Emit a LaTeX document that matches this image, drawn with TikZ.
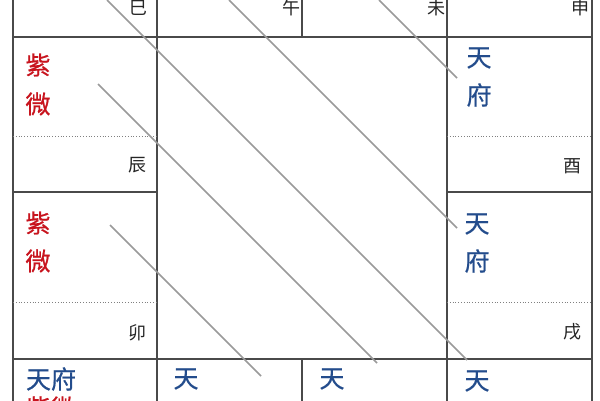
\documentclass[tikz,border=0pt]{standalone}
\usepackage{fontspec}
\newfontfamily\cjk{Noto Sans CJK SC}
\newfontfamily\cjkstar{Noto Sans CJK SC}[FakeBold=0.6]
\definecolor{ziwei}{HTML}{C8141E}
\definecolor{tianfu}{HTML}{234C8C}
\definecolor{frame}{HTML}{4A4A4A}
\definecolor{raygray}{HTML}{9A9A9A}

\begin{document}
\begin{tikzpicture}[x=1pt, y=-1pt,
    cell/.style={frame, line width=1.2pt},
    split/.style={frame!70, line width=0.8pt, dotted},
    ray/.style={raygray, line width=1.6pt},
    zi/.style={ziwei, inner sep=0pt, font=\cjkstar\fontsize{25}{25}\selectfont},
    tian/.style={tianfu, inner sep=0pt, font=\cjkstar\fontsize{25}{25}\selectfont},
    branch/.style={black!85, inner sep=0pt, font=\cjk\fontsize{18}{18}\selectfont}]
          \useasboundingbox (0,0) rectangle (600,400);
          \clip (0,0) rectangle (600,400);
          \fill[white] (0,0) rectangle (600,400);
          \draw[cell] (13,-5) -- (13,405);
          \draw[cell] (157,-5) -- (157,405);
          \draw[cell] (447,-5) -- (447,405);
          \draw[cell] (592,-5) -- (592,405);
          \draw[cell] (302,-5) -- (302,37);
          \draw[cell] (302,359) -- (302,405);
          \draw[cell] (13,37) -- (592,37);
          \draw[cell] (13,359) -- (592,359);
          \draw[cell] (13,192) -- (157,192);
          \draw[cell] (447,192) -- (592,192);
          \draw[split] (13,136) -- (157,136);
          \draw[split] (447,136) -- (592,136);
          \draw[split] (13,302) -- (157,302);
          \draw[split] (447,302) -- (592,302);
          \draw[ray] (107,0) -- (467,360);
          \draw[ray] (229,0) -- (457,228);
          \draw[ray] (379,0) -- (457,78);
          \draw[ray] (98,84) -- (377,363);
          \draw[ray] (110,225) -- (261,376);
          \node[branch] (si) at (138,8) {巳};
          \node[branch] (wu) at (291,8) {午};
          \node[branch] (wei) at (436,8) {未};
          \node[branch] (shen) at (580,8) {申};
          \node[branch] (chen) at (137,165) {辰};
          \node[branch] (you) at (572,166) {酉};
          \node[branch] (mao) at (137,333) {卯};
          \node[branch] (xu) at (572,332) {戌};
          \node[zi] (zi1) at (38,65) {紫};
          \node[zi] (wei1) at (38,104) {微};
          \node[zi] (zi2) at (38,223) {紫};
          \node[zi] (wei2) at (38,261) {微};
          \node[tian] (tian1) at (479,58) {天};
          \node[tian] (fu1) at (479,95) {府};
          \node[tian] (tian2) at (477,224) {天};
          \node[tian] (fu2) at (477,261) {府};
          \node[tian] (tianfu) at (51,379) {天府};
          \node[zi] (ziwei) at (51,408) {紫微};
          \node[tian] (tian3) at (186,379) {天};
          \node[tian] (tian4) at (332,379) {天};
          \node[tian] (tian5) at (477,381) {天};
\end{tikzpicture}
\end{document}
